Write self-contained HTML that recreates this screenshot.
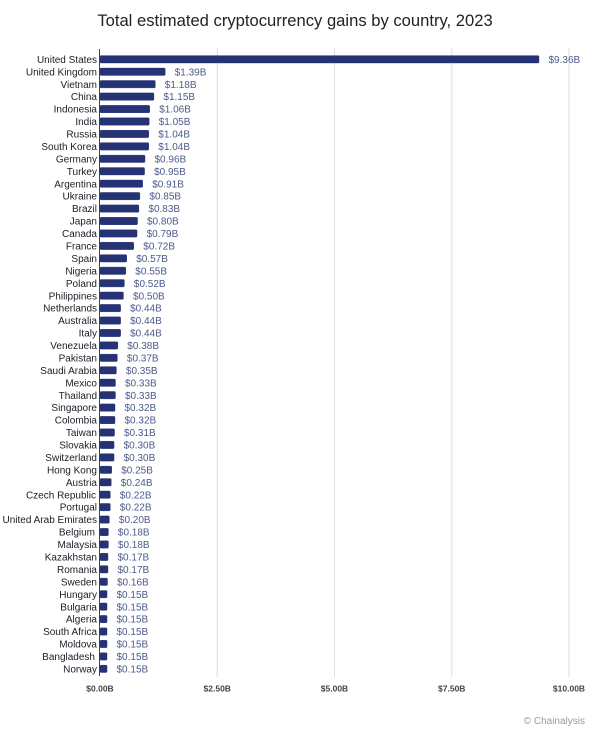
<!DOCTYPE html>
<html><head><meta charset="utf-8"><style>
html,body{margin:0;padding:0;background:#fff;}
svg{display:block;}
.c{font-family:"Liberation Sans",sans-serif;font-size:10px;fill:#1c1c26;text-anchor:end;}
.v{font-family:"Liberation Sans",sans-serif;font-size:10px;fill:#4c5a8a;}
.t{font-family:"Liberation Sans",sans-serif;font-size:8.5px;font-weight:bold;fill:#444;text-anchor:middle;}
rect.b{fill:#253274;stroke:#253274;stroke-width:0.4;}
</style></head><body>
<svg width="600" height="732" viewBox="0 0 600 732" xmlns="http://www.w3.org/2000/svg">
<rect width="600" height="732" fill="#fff"/>
<text x="295" y="26" text-anchor="middle" font-family="Liberation Sans, sans-serif" font-size="16.6" fill="#222">Total estimated cryptocurrency gains by country, 2023</text>
<g stroke="#dedede" stroke-width="1">
<line x1="217.25" y1="48" x2="217.25" y2="677"/>
<line x1="334.5" y1="48" x2="334.5" y2="677"/>
<line x1="451.75" y1="48" x2="451.75" y2="677"/>
<line x1="569" y1="48" x2="569" y2="677"/>
</g>
<line x1="99.5" y1="49" x2="99.5" y2="676" stroke="#444" stroke-width="1"/>
<g>
<rect class="b" x="100" y="55.6" width="439" height="7.4" rx="1"/>
<rect class="b" x="100" y="68.04" width="65.19" height="7.4" rx="1"/>
<rect class="b" x="100" y="80.48" width="55.34" height="7.4" rx="1"/>
<rect class="b" x="100" y="92.92" width="53.94" height="7.4" rx="1"/>
<rect class="b" x="100" y="105.36" width="49.71" height="7.4" rx="1"/>
<rect class="b" x="100" y="117.8" width="49.25" height="7.4" rx="1"/>
<rect class="b" x="100" y="130.24" width="48.78" height="7.4" rx="1"/>
<rect class="b" x="100" y="142.68" width="48.78" height="7.4" rx="1"/>
<rect class="b" x="100" y="155.12" width="45.02" height="7.4" rx="1"/>
<rect class="b" x="100" y="167.56" width="44.56" height="7.4" rx="1"/>
<rect class="b" x="100" y="180.0" width="42.68" height="7.4" rx="1"/>
<rect class="b" x="100" y="192.44" width="39.87" height="7.4" rx="1"/>
<rect class="b" x="100" y="204.88" width="38.93" height="7.4" rx="1"/>
<rect class="b" x="100" y="217.32" width="37.52" height="7.4" rx="1"/>
<rect class="b" x="100" y="229.76" width="37.05" height="7.4" rx="1"/>
<rect class="b" x="100" y="242.2" width="33.77" height="7.4" rx="1"/>
<rect class="b" x="100" y="254.64" width="26.73" height="7.4" rx="1"/>
<rect class="b" x="100" y="267.08" width="25.8" height="7.4" rx="1"/>
<rect class="b" x="100" y="279.52" width="24.39" height="7.4" rx="1"/>
<rect class="b" x="100" y="291.96" width="23.45" height="7.4" rx="1"/>
<rect class="b" x="100" y="304.4" width="20.64" height="7.4" rx="1"/>
<rect class="b" x="100" y="316.84" width="20.64" height="7.4" rx="1"/>
<rect class="b" x="100" y="329.28" width="20.64" height="7.4" rx="1"/>
<rect class="b" x="100" y="341.72" width="17.82" height="7.4" rx="1"/>
<rect class="b" x="100" y="354.16" width="17.35" height="7.4" rx="1"/>
<rect class="b" x="100" y="366.6" width="16.42" height="7.4" rx="1"/>
<rect class="b" x="100" y="379.04" width="15.48" height="7.4" rx="1"/>
<rect class="b" x="100" y="391.48" width="15.48" height="7.4" rx="1"/>
<rect class="b" x="100" y="403.92" width="15.01" height="7.4" rx="1"/>
<rect class="b" x="100" y="416.36" width="15.01" height="7.4" rx="1"/>
<rect class="b" x="100" y="428.8" width="14.54" height="7.4" rx="1"/>
<rect class="b" x="100" y="441.24" width="14.07" height="7.4" rx="1"/>
<rect class="b" x="100" y="453.68" width="14.07" height="7.4" rx="1"/>
<rect class="b" x="100" y="466.12" width="11.73" height="7.4" rx="1"/>
<rect class="b" x="100" y="478.56" width="11.26" height="7.4" rx="1"/>
<rect class="b" x="100" y="491.0" width="10.32" height="7.4" rx="1"/>
<rect class="b" x="100" y="503.44" width="10.32" height="7.4" rx="1"/>
<rect class="b" x="100" y="515.88" width="9.38" height="7.4" rx="1"/>
<rect class="b" x="100" y="528.32" width="8.44" height="7.4" rx="1"/>
<rect class="b" x="100" y="540.76" width="8.44" height="7.4" rx="1"/>
<rect class="b" x="100" y="553.2" width="7.97" height="7.4" rx="1"/>
<rect class="b" x="100" y="565.64" width="7.97" height="7.4" rx="1"/>
<rect class="b" x="100" y="578.08" width="7.5" height="7.4" rx="1"/>
<rect class="b" x="100" y="590.52" width="7.04" height="7.4" rx="1"/>
<rect class="b" x="100" y="602.96" width="7.04" height="7.4" rx="1"/>
<rect class="b" x="100" y="615.4" width="7.04" height="7.4" rx="1"/>
<rect class="b" x="100" y="627.84" width="7.04" height="7.4" rx="1"/>
<rect class="b" x="100" y="640.28" width="7.04" height="7.4" rx="1"/>
<rect class="b" x="100" y="652.72" width="7.04" height="7.4" rx="1"/>
<rect class="b" x="100" y="665.16" width="7.04" height="7.4" rx="1"/>
</g>
<g>
<text class="c" x="97" y="62.9">United States</text>
<text class="c" x="97" y="75.34">United Kingdom</text>
<text class="c" x="97" y="87.78">Vietnam</text>
<text class="c" x="97" y="100.22">China</text>
<text class="c" x="97" y="112.66">Indonesia</text>
<text class="c" x="97" y="125.1">India</text>
<text class="c" x="97" y="137.54">Russia</text>
<text class="c" x="97" y="149.98">South Korea</text>
<text class="c" x="97" y="162.42">Germany</text>
<text class="c" x="97" y="174.86">Turkey</text>
<text class="c" x="97" y="187.3">Argentina</text>
<text class="c" x="97" y="199.74">Ukraine</text>
<text class="c" x="97" y="212.18">Brazil</text>
<text class="c" x="97" y="224.62">Japan</text>
<text class="c" x="97" y="237.06">Canada</text>
<text class="c" x="97" y="249.5">France</text>
<text class="c" x="97" y="261.94">Spain</text>
<text class="c" x="97" y="274.38">Nigeria</text>
<text class="c" x="97" y="286.82">Poland</text>
<text class="c" x="97" y="299.26">Philippines</text>
<text class="c" x="97" y="311.7">Netherlands</text>
<text class="c" x="97" y="324.14">Australia</text>
<text class="c" x="97" y="336.58">Italy</text>
<text class="c" x="97" y="349.02">Venezuela</text>
<text class="c" x="97" y="361.46">Pakistan</text>
<text class="c" x="97" y="373.9">Saudi Arabia</text>
<text class="c" x="97" y="386.34">Mexico</text>
<text class="c" x="97" y="398.78">Thailand</text>
<text class="c" x="97" y="411.22">Singapore</text>
<text class="c" x="97" y="423.66">Colombia</text>
<text class="c" x="97" y="436.1">Taiwan</text>
<text class="c" x="97" y="448.54">Slovakia</text>
<text class="c" x="97" y="460.98">Switzerland</text>
<text class="c" x="97" y="473.42">Hong Kong</text>
<text class="c" x="97" y="485.86">Austria</text>
<text class="c" x="96" y="498.3">Czech Republic</text>
<text class="c" x="97" y="510.74">Portugal</text>
<text class="c" x="97" y="523.18">United Arab Emirates</text>
<text class="c" x="95" y="535.62">Belgium</text>
<text class="c" x="97" y="548.06">Malaysia</text>
<text class="c" x="97" y="560.5">Kazakhstan</text>
<text class="c" x="97" y="572.94">Romania</text>
<text class="c" x="97" y="585.38">Sweden</text>
<text class="c" x="97" y="597.82">Hungary</text>
<text class="c" x="97" y="610.26">Bulgaria</text>
<text class="c" x="97" y="622.7">Algeria</text>
<text class="c" x="97" y="635.14">South Africa</text>
<text class="c" x="97" y="647.58">Moldova</text>
<text class="c" x="95" y="660.02">Bangladesh</text>
<text class="c" x="97" y="672.46">Norway</text>
</g>
<g>
<text class="v" x="548.5" y="62.9">$9.36B</text>
<text class="v" x="174.7" y="75.34">$1.39B</text>
<text class="v" x="164.8" y="87.78">$1.18B</text>
<text class="v" x="163.4" y="100.22">$1.15B</text>
<text class="v" x="159.2" y="112.66">$1.06B</text>
<text class="v" x="158.7" y="125.1">$1.05B</text>
<text class="v" x="158.3" y="137.54">$1.04B</text>
<text class="v" x="158.3" y="149.98">$1.04B</text>
<text class="v" x="154.5" y="162.42">$0.96B</text>
<text class="v" x="154.1" y="174.86">$0.95B</text>
<text class="v" x="152.2" y="187.3">$0.91B</text>
<text class="v" x="149.4" y="199.74">$0.85B</text>
<text class="v" x="148.4" y="212.18">$0.83B</text>
<text class="v" x="147.0" y="224.62">$0.80B</text>
<text class="v" x="146.6" y="237.06">$0.79B</text>
<text class="v" x="143.3" y="249.5">$0.72B</text>
<text class="v" x="136.2" y="261.94">$0.57B</text>
<text class="v" x="135.3" y="274.38">$0.55B</text>
<text class="v" x="133.9" y="286.82">$0.52B</text>
<text class="v" x="133.0" y="299.26">$0.50B</text>
<text class="v" x="130.1" y="311.7">$0.44B</text>
<text class="v" x="130.1" y="324.14">$0.44B</text>
<text class="v" x="130.1" y="336.58">$0.44B</text>
<text class="v" x="127.3" y="349.02">$0.38B</text>
<text class="v" x="126.9" y="361.46">$0.37B</text>
<text class="v" x="125.9" y="373.9">$0.35B</text>
<text class="v" x="125.0" y="386.34">$0.33B</text>
<text class="v" x="125.0" y="398.78">$0.33B</text>
<text class="v" x="124.5" y="411.22">$0.32B</text>
<text class="v" x="124.5" y="423.66">$0.32B</text>
<text class="v" x="124.0" y="436.1">$0.31B</text>
<text class="v" x="123.6" y="448.54">$0.30B</text>
<text class="v" x="123.6" y="460.98">$0.30B</text>
<text class="v" x="121.2" y="473.42">$0.25B</text>
<text class="v" x="120.8" y="485.86">$0.24B</text>
<text class="v" x="119.8" y="498.3">$0.22B</text>
<text class="v" x="119.8" y="510.74">$0.22B</text>
<text class="v" x="118.9" y="523.18">$0.20B</text>
<text class="v" x="117.9" y="535.62">$0.18B</text>
<text class="v" x="117.9" y="548.06">$0.18B</text>
<text class="v" x="117.5" y="560.5">$0.17B</text>
<text class="v" x="117.5" y="572.94">$0.17B</text>
<text class="v" x="117.0" y="585.38">$0.16B</text>
<text class="v" x="116.5" y="597.82">$0.15B</text>
<text class="v" x="116.5" y="610.26">$0.15B</text>
<text class="v" x="116.5" y="622.7">$0.15B</text>
<text class="v" x="116.5" y="635.14">$0.15B</text>
<text class="v" x="116.5" y="647.58">$0.15B</text>
<text class="v" x="116.5" y="660.02">$0.15B</text>
<text class="v" x="116.5" y="672.46">$0.15B</text>
</g>
<g>
<text class="t" x="100" y="691.7">$0.00B</text>
<text class="t" x="217.25" y="691.7">$2.50B</text>
<text class="t" x="334.5" y="691.7">$5.00B</text>
<text class="t" x="451.75" y="691.7">$7.50B</text>
<text class="t" x="569" y="691.7">$10.00B</text>
</g>
<text x="585" y="724" text-anchor="end" font-family="Liberation Sans, sans-serif" font-size="10" fill="#9a9a9a">© Chainalysis</text>
</svg>
</body></html>
